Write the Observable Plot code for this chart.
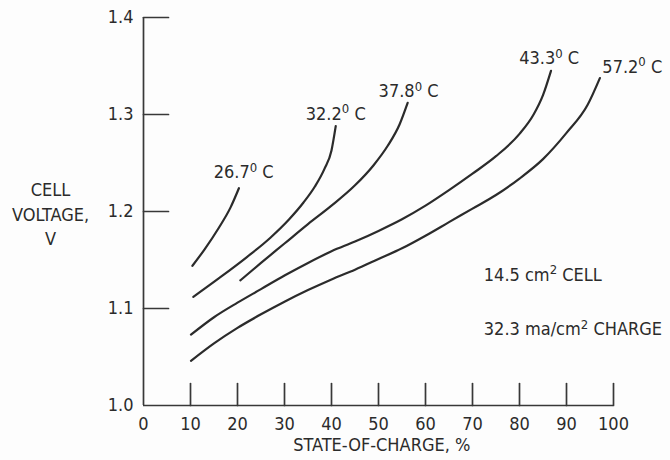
<!DOCTYPE html>
<html><head><meta charset="utf-8">
<script src="https://cdn.jsdelivr.net/npm/d3@7"></script>
<script src="https://cdn.jsdelivr.net/npm/@observablehq/plot@0.6"></script>
<style>
html,body{margin:0;padding:0;background:#fdfdfd;}
#chart{width:670px;height:460px;}
</style></head><body><div id="chart"></div>
<script>
// ---- data ----
const xTicks = [0, 10, 20, 30, 40, 50, 60, 70, 80, 90, 100];
const xTickLabels = ["0", "10", "20", "30", "40", "50", "60", "70", "80", "90", "100"];
const yTicks = [1.0, 1.1, 1.2, 1.3, 1.4];
const yTickLabels = ["1.0", "1.1", "1.2", "1.3", "1.4"];
const xAxisTitle = "STATE-OF-CHARGE, %";
const yAxisTitle = "CELL\nVOLTAGE,\nV";

const seriesNames = ["26.7⁰ C", "32.2⁰ C", "37.8⁰ C", "43.3⁰ C", "57.2⁰ C"];
// [state-of-charge %, cell voltage V]
const curve267 = [[10.4,1.144],[13,1.161],[16,1.183],[18.5,1.204],[20.3,1.224]];
const curve322 = [[10.6,1.112],[16,1.131],[22,1.153],[27,1.173],[31,1.192],[34,1.209],[36.5,1.226],[38.5,1.244],[40,1.263],[40.9,1.288]];
const curve378 = [[20.6,1.129],[25,1.147],[30,1.167],[35,1.187],[40,1.206],[45,1.227],[49,1.248],[52,1.268],[54.5,1.290],[56.2,1.312]];
const curve433 = [[10.1,1.073],[15,1.091],[20,1.106],[25,1.120],[30,1.134],[35,1.147],[40,1.159],[45,1.169],[50,1.180],[55,1.192],[60,1.206],[65,1.222],[70,1.239],[75,1.257],[80,1.280],[83,1.300],[85,1.320],[86.7,1.345]];
const curve572 = [[10.1,1.046],[15,1.064],[20,1.080],[25,1.094],[30,1.107],[35,1.119],[40,1.130],[45,1.140],[50,1.151],[55,1.162],[60,1.175],[65,1.189],[70,1.203],[75,1.217],[80,1.234],[85,1.254],[90,1.281],[94.5,1.310],[97.1,1.3375]];
const curves = [curve267, curve322, curve378, curve433, curve572];
// label anchors in data units (SOC %, V)
const labelSoc = [21.3, 40.9, 56.4, 86.3, 104.0];
const labelVolt = [1.240, 1.3005, 1.3235, 1.358, 1.349];

const notes = ["14.5 cm² CELL", "32.3 ma/cm² CHARGE"];
const noteSoc = [72.4, 72.4];
const noteVolt = [1.1345, 1.0785];

// ---- tables ----
const rows = seriesNames.flatMap((name, i) => curves[i].map(([x, y]) => ({series: name, x, y})));
const labels = seriesNames.map((name, i) => ({text: name, x: labelSoc[i], y: labelVolt[i]}));
const noteRows = notes.map((t, i) => ({text: t, x: noteSoc[i], y: noteVolt[i]}));

const ink = "#2b2b2b";
const axisInk = "#383838";
const font = "'Liberation Sans Narrow', 'DejaVu Sans Condensed', 'Liberation Sans', sans-serif";
const tickShape = {draw(ctx, l) { ctx.moveTo(0, 0); ctx.lineTo(0, -l); }};

const chart = Plot.plot({
  width: 670,
  height: 460,
  marginLeft: 143,
  marginRight: 57,
  marginTop: 17,
  marginBottom: 55,
  style: {background: "#fdfdfd", color: ink, fontFamily: font, fontSize: "18px"},
  x: {domain: [0, 100], label: null},
  y: {domain: [1.0, 1.4], label: null},
  marks: [
    Plot.ruleY([1.0], {x1: 0, x2: 100, stroke: axisInk, strokeWidth: 1.7}),
    Plot.ruleX([0], {y1: 1.0, y2: 1.4, stroke: axisInk, strokeWidth: 1.7}),
    Plot.vector(yTicks.slice(1), {x: d => 0, y: d => d, rotate: 90, length: 25, anchor: "start", shape: tickShape, stroke: axisInk, strokeWidth: 1.7}),
    Plot.vector(xTicks.slice(1), {x: d => d, y: d => 1.0, rotate: 0, length: 22, anchor: "start", shape: tickShape, stroke: axisInk, strokeWidth: 1.7}),
    Plot.axisX(xTicks, {tickSize: 0, tickPadding: 12, tickFormat: d => xTickLabels[xTicks.indexOf(d)], label: null, fill: ink}),
    Plot.axisY(yTicks, {tickSize: 0, tickPadding: 10, tickFormat: d => yTickLabels[yTicks.indexOf(d)], label: null, fill: ink}),
    Plot.line(rows, {x: "x", y: "y", z: "series", curve: "monotone-x", stroke: ink, strokeWidth: 2.2}),
    Plot.text(labels, {x: "x", y: "y", text: "text", textAnchor: "middle", lineAnchor: "middle", fill: ink}),
    Plot.text(noteRows, {x: "x", y: "y", text: "text", textAnchor: "start", lineAnchor: "middle", fill: ink}),
    Plot.text([xAxisTitle], {x: d => 50.7, frameAnchor: "bottom", dy: 40, text: d => d, textAnchor: "middle", lineAnchor: "middle", fill: ink}),
    Plot.text([yAxisTitle], {y: d => 1.1985, frameAnchor: "left", dx: -93, text: d => d, textAnchor: "middle", lineAnchor: "middle", lineHeight: 1.36, fill: ink})
  ]
});

// superscripts as real text in raised tspans
const NS = "http://www.w3.org/2000/svg";
chart.querySelectorAll("text").forEach(t => {
  if (t.children.length) return;
  const s = t.textContent;
  if (!/[⁰²]/.test(s)) return;
  t.textContent = "";
  let raised = false;
  for (const part of s.split(/([⁰²])/)) {
    if (!part) continue;
    const ts = document.createElementNS(NS, "tspan");
    if (part === "⁰" || part === "²") {
      ts.textContent = part === "⁰" ? "0" : "2";
      ts.setAttribute("font-size", "13");
      ts.setAttribute("dy", "-6.5");
      raised = true;
    } else {
      ts.textContent = part;
      if (raised) { ts.setAttribute("dy", "6.5"); raised = false; }
    }
    t.appendChild(ts);
  }
});

document.getElementById("chart").appendChild(chart);
</script>
</body></html>
